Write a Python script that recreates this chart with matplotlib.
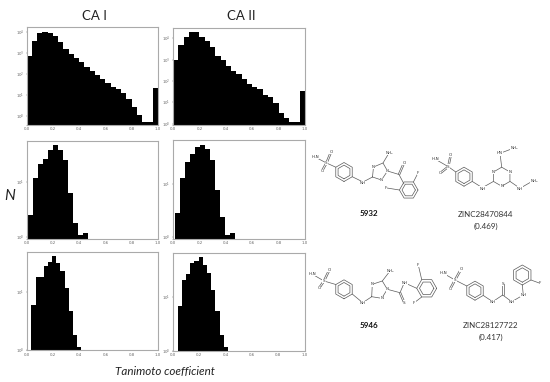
import numpy as np
import matplotlib
matplotlib.use('Agg')
import matplotlib.pyplot as plt

W, H = 550, 382

# bar heights
ca1_all = [774, 3730, 8960, 10400, 8960, 6220, 3590, 1610, 896, 578, 373, 232, 144, 90, 58, 37, 26, 19, 13, 7, 2.7, 1.16, 0.56, 0.56, 23]
ca2_all = [965, 5050, 12000, 19100, 19100, 12000, 7780, 3925, 1485, 931, 487, 284, 205, 120, 72, 50, 41, 22, 18, 9.3, 3.2, 1.9, 1.2, 1.2, 33]
ca1_5932 = [2.48, 11.8, 20.7, 26.2, 37.7, 46.4, 37.7, 24.8, 6.3, 1.8, 1.07, 1.18]
ca2_5932 = [2.79, 13, 27.1, 38, 52.5, 57.3, 47.3, 29.2, 7.8, 2.34, 1.06, 1.19]
ca1_5946 = [5.99, 17.8, 18.3, 27.9, 32.7, 40.9, 31, 23.2, 11.6, 4.7, 1.83, 1.16]
ca2_5946 = [6.7, 20.4, 26.3, 41.4, 45.1, 53.5, 39.1, 27.8, 13.1, 5.5, 1.95, 1.19]

xticks = [0.0, 0.2, 0.4, 0.6, 0.8, 1.0]

# values, first bin edge, bin width, ylim, yticks, box in px (left, right, top, bottom)
panels = [
    (ca1_all, 0.0, 0.04, (0.39, 17000), [1, 10, 100, 1000, 10000], (26.7, 158, 27.3, 125)),
    (ca2_all, 0.0, 0.04, (0.866, 31600), [1, 10, 100, 1000, 10000], (173, 305, 27.7, 125)),
    (ca1_5932, 0.0127, 0.0381, (0.92, 55.6), [1, 10], (26.7, 158, 140.7, 238.7)),
    (ca2_5932, 0.0177, 0.0379, (0.916, 69), [1, 10], (173, 305, 140.3, 238.7)),
    (ca1_5946, 0.0355, 0.0317, (1, 48.5), [1, 10], (26.7, 158, 252, 350.3)),
    (ca2_5946, 0.0355, 0.0319, (1, 64.4), [1, 10], (173, 304.5, 253, 350.7)),
]

fig = plt.figure(figsize=(W/100, H/100), dpi=100)

for vals, start, bw, ylim, yt, box in panels:
    l, r, t, b = box
    ax = fig.add_axes([l/W, 1-b/H, (r-l)/W, (b-t)/H])
    edges = start + bw*np.arange(len(vals))
    ax.bar(edges, vals, width=bw, align='edge', color='black', log=True)
    ax.set_yscale('log')
    ax.set_xlim(0, 1)
    ax.set_ylim(*ylim)
    ax.set_xticks(xticks)
    ax.set_yticks(yt)
    ax.minorticks_off()
    ax.tick_params(labelsize=2.8, length=0.8, width=0.3, pad=1, colors='#666666')
    for s in ax.spines.values():
        s.set_color('#aaaaaa')
        s.set_linewidth(0.8)

# overlay in image pixels for the headings and the structures
ov = fig.add_axes([0, 0, 1, 1])
ov.set_xlim(0, W)
ov.set_ylim(H, 0)
ov.axis('off')
ov.patch.set_alpha(0)

font = 'Lato'
ov.text(94, 16, 'CA I', ha='center', va='center', fontsize=9.5, family=font, color='#222222')
ov.text(241, 16, 'CA II', ha='center', va='center', fontsize=9.5, family=font, color='#222222')
ov.text(10, 196, 'N', ha='center', va='center', fontsize=11, style='italic', family=font, color='#222222')
ov.text(165, 371, 'Tanimoto coefficient', ha='center', va='center', fontsize=8.4, style='italic', family=font, color='#222222')

BOND = '#5a5a5a'


def line(*pts):
    xs, ys = zip(*pts)
    ov.plot(xs, ys, color=BOND, lw=0.5, zorder=2, solid_capstyle='round')


def dbl(a, b, gap=0.8):
    a, b = np.array(a, float), np.array(b, float)
    d = b-a
    n = np.array([-d[1], d[0]])/np.hypot(*d)*gap
    line(a+n, b+n)
    line(a-n, b-n)


def ring(cx, cy, r, a0=90, inner=True):
    ang = np.radians(a0 + 60*np.arange(7))
    line(*zip(cx + r*np.cos(ang), cy + r*np.sin(ang)))
    if inner:
        line(*zip(cx + 0.72*r*np.cos(ang), cy + 0.72*r*np.sin(ang)))


def atom(x, y, s):
    ov.text(x, y, s, ha='center', va='center', fontsize=3, color='#333333', family='DejaVu Sans',
            zorder=3, bbox=dict(fc='white', ec='none', pad=0.2))


def sulfonamide(nh2, s, o1, o2, ringv):
    line(nh2, s)
    line(s, ringv)
    dbl(s, o1)
    dbl(s, o2)
    atom(*nh2, 'H₂N')
    atom(*s, 'S')
    atom(*o1, 'O')
    atom(*o2, 'O')


def triazole(c1, n1, c2, n2, n3):
    line(c1, n1, c2, n2, n3, c1)
    atom(*n1, 'N')
    atom(*n2, 'N')
    atom(*n3, 'N')


# 5932
ring(344, 172, 9.5)
sulfonamide((315, 157), (326.5, 163), (331, 152), (322, 171), (335.8, 167.2))
line((352.2, 176.7), (363, 182), (372.5, 177))
atom(363, 183, 'NH')
triazole((372.5, 177), (373.5, 167), (383, 163), (387.5, 171), (381.5, 180))
line((383, 163), (389, 153))
atom(389, 153, 'NH₂')
line((387.5, 171), (399, 174.5), (404, 184))
dbl((399, 174.5), (404, 163))
atom(404, 163, 'O')
ring(408.7, 190, 9.3, a0=0)
line((413.4, 182), (418, 173))
atom(418, 173, 'F')
line((399.4, 190), (387, 188))
atom(386, 188, 'F')

# ZINC28470844
ring(464, 176.7, 9.5)
sulfonamide((435, 159), (448.3, 166.7), (450.7, 155), (440, 173.3), (455.8, 172))
line((472.2, 181.4), (482.3, 187.7), (493.5, 181.4))
atom(482.3, 188.5, 'NH')
ring(501.7, 176.7, 9.5, inner=False)
line((501.7, 167.2), (500, 153.3), (513.3, 148.3))
atom(500, 153.3, 'HN')
atom(514.5, 148.3, 'NH₂')
line((510, 181.4), (520, 188.3), (532.7, 181))
atom(520, 188.5, 'NH')
atom(534, 181, 'NH₂')
atom(510, 172, 'N')
atom(493.4, 172, 'N')
atom(501.7, 186.2, 'N')

# 5946
ring(344, 289.3, 9.5)
sulfonamide((312, 274), (324, 281), (329.3, 270), (319, 288.3), (335.8, 284.5))
line((352.2, 294), (362.7, 302.7), (371.7, 296.7))
atom(362.7, 303, 'NH')
triazole((371.7, 296.7), (372.3, 284.3), (382.3, 281), (387.3, 289.3), (381.7, 298.3))
line((382.3, 281), (390, 271))
atom(390, 271, 'NH₂')
line((387.3, 289.3), (400, 292.7), (404.3, 282.7), (416.7, 288.3))
dbl((400, 292.7), (404.3, 302.7))
atom(404.3, 282.7, 'NH')
atom(404.3, 302.7, 'S')
ring(426.7, 288.3, 10, a0=0)
line((421.7, 279.6), (418.3, 265))
atom(418.3, 265, 'F')
line((421.7, 297), (414.3, 302.7))
atom(414.3, 302.7, 'F')

# ZINC28127722
ring(475, 290.7, 9.5)
sulfonamide((443.3, 273.3), (455, 280), (461, 269.3), (450, 289.3), (466.8, 286))
line((483.2, 295.4), (492.7, 301.7), (502.7, 295), (511.7, 301.7), (523.3, 295), (522.3, 285))
dbl((502.7, 295), (502.7, 284))
atom(492.7, 302, 'NH')
atom(502.7, 284, 'S')
atom(511.7, 302, 'NH')
atom(523.3, 295, 'NH')
ring(522.3, 275, 10)
line((531, 280), (540, 283.3))
atom(540, 283.3, 'F')

# captions
ov.text(369, 214, '5932', ha='center', va='center', fontsize=5.8, fontweight='bold', family=font, color='#111111')
ov.text(486, 214.5, 'ZINC28470844', ha='center', va='center', fontsize=5.8, family=font, color='#333333')
ov.text(486, 226, '(0.469)', ha='center', va='center', fontsize=5.8, family=font, color='#333333')
ov.text(369, 326, '5946', ha='center', va='center', fontsize=5.8, fontweight='bold', family=font, color='#111111')
ov.text(491, 326, 'ZINC28127722', ha='center', va='center', fontsize=5.8, family=font, color='#333333')
ov.text(491, 337, '(0.417)', ha='center', va='center', fontsize=5.8, family=font, color='#333333')

fig.savefig('out.png', dpi=100)
